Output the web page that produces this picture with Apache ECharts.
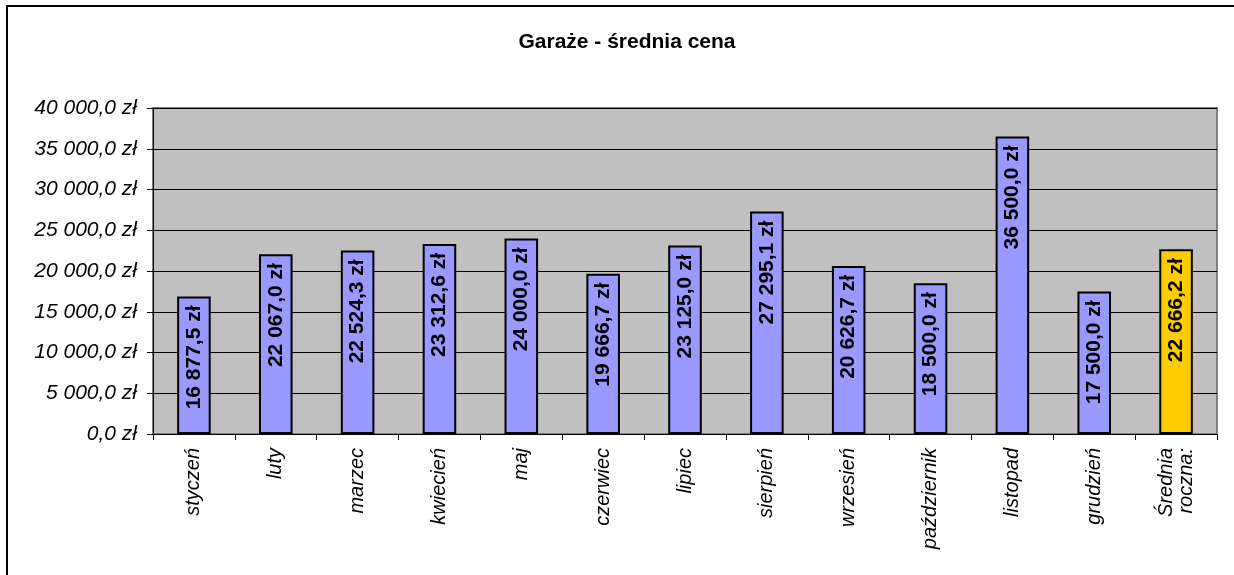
<!DOCTYPE html>
<html>
<head>
<meta charset="utf-8">
<title>Garaże - średnia cena</title>
<script src="https://cdn.jsdelivr.net/npm/echarts@6/dist/echarts.min.js"></script>
<style>
  html, body { margin: 0; padding: 0; background: #fff; }
  #chart { width: 1234px; height: 575px; }
</style>
</head>
<body>
<div id="chart"></div>
<script>
// dane z wykresu
var months = ['styczeń', 'luty', 'marzec', 'kwiecień', 'maj', 'czerwiec', 'lipiec',
  'sierpień', 'wrzesień', 'październik', 'listopad', 'grudzień', 'Średnia\nroczna:']
var prices = [16877.5, 22067.0, 22524.3, 23312.6, 24000.0, 19666.7, 23125.0,
  27295.1, 20626.7, 18500.0, 36500.0, 17500.0, 22666.2]
var yTicks = [0, 40000, 5000] // min, max, krok

var FONT = 'Liberation Sans, Arial, sans-serif'

function zl (v) {
  var parts = v.toFixed(1).split('.')
  var whole = parts[0].replace(/\B(?=(\d{3})+(?!\d))/g, ' ')
  return whole + ',' + parts[1] + ' zł'
}

var chart = echarts.init(document.getElementById('chart'))

var option = {
  animation: false,
  backgroundColor: '#fff',
  title: {
    text: 'Garaże - średnia cena',
    left: 622,
    textAlign: 'center',
    top: 27,
    textStyle: { fontFamily: FONT, fontSize: 21, fontWeight: 'bold', color: '#000' }
  },
  graphic: [
    {
      type: 'rect',
      shape: { x: 7, y: 6, width: 1232, height: 600 },
      style: { fill: 'none', stroke: '#000', lineWidth: 2 },
      silent: true
    }
  ],
  grid: {
    left: 153,
    right: 17,
    top: 108,
    bottom: 141,
    show: true,
    backgroundColor: '#C0C0C0',
    borderColor: '#808080',
    borderWidth: 2
  },
  xAxis: {
    type: 'category',
    data: months,
    axisLine: { show: true, lineStyle: { color: '#000', width: 1 } },
    axisTick: { show: true, interval: 0, length: 6, lineStyle: { color: '#000' } },
    axisLabel: {
      interval: 0,
      rotate: 90,
      margin: 14,
      fontFamily: FONT,
      fontSize: 20,
      fontStyle: 'italic',
      lineHeight: 20,
      color: '#000'
    }
  },
  yAxis: {
    type: 'value',
    min: yTicks[0],
    max: yTicks[1],
    interval: yTicks[2],
    axisLine: { show: true, lineStyle: { color: '#000', width: 1 } },
    axisTick: { show: true, length: 6, lineStyle: { color: '#000' } },
    splitLine: { show: true, lineStyle: { color: '#000', width: 1 } },
    axisLabel: {
      margin: 16,
      formatter: zl,
      fontFamily: FONT,
      fontSize: 21,
      fontStyle: 'italic',
      color: '#000'
    }
  },
  series: [
    {
      name: 'Średnia cena',
      type: 'bar',
      barWidth: '41%',
      data: prices.map(function (v, i) {
        return {
          value: v,
          itemStyle: { color: i === prices.length - 1 ? '#FFCC00' : '#9999FF' }
        }
      }),
      itemStyle: { borderColor: '#000', borderWidth: 2 },
      label: {
        show: true,
        position: 'insideTop',
        distance: 9,
        rotate: 90,
        align: 'right',
        verticalAlign: 'middle',
        formatter: function (p) { return zl(p.value) },
        fontFamily: FONT,
        fontSize: 21,
        fontWeight: 'bold',
        color: '#000'
      }
    }
  ]
}

chart.setOption(option)
</script>
</body>
</html>
